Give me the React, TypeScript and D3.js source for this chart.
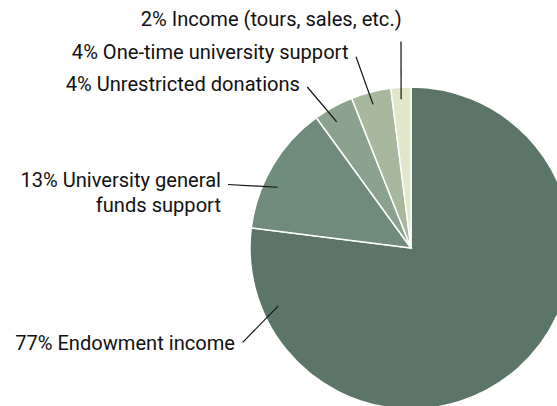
import React from "react";
import * as d3 from "d3";

const categories = [
  "Endowment income",
  "University general funds support",
  "Unrestricted donations",
  "One-time university support",
  "Income (tours, sales, etc.)",
];
const values = [77, 13, 4, 4, 2];
const labelLines = [
  ["77% Endowment income"],
  ["13% University general", "funds support"],
  ["4% Unrestricted donations"],
  ["4% One-time university support"],
  ["2% Income (tours, sales, etc.)"],
];
const colors = ["#5b7668", "#6f8b7c", "#8aa28e", "#a7b89c", "#e1e7c9"];

// layout (label anchor, leader start, leader end in polar coords)
const layout = [
  { tx: 235, ty: 350, lx: 242.7, ly: 342.3, ang: 246.4, rad: 145 },
  { tx: 221, ty: 187, lx: 228, ly: 184.5, ang: 294.5, rad: 146.5 },
  { tx: 300, ty: 90.5, lx: 307.3, ly: 87, ang: 329.5, rad: 146.3 },
  { tx: 348.5, ty: 58.5, lx: 356, ly: 56.7, ang: 345.2, rad: 148.6 },
  { tx: 401.7, ty: 26, lx: 401, ly: 41.5, ang: 356.2, rad: 149 },
];

const W = 557;
const H = 406;
const cx = 411;
const cy = 248;
const R = 161;

export default function App() {
  const pie = d3
    .pie<number>()
    .sort(null)
    .value((d) => d);
  const arcs = pie(values);
  const arcGen = d3
    .arc<d3.PieArcDatum<number>>()
    .innerRadius(0)
    .outerRadius(R);

  return (
    <svg
      width={W}
      height={H}
      style={{ position: "absolute", left: 0, top: 0, background: "#fff" }}
      fontFamily="Roboto, 'Liberation Sans', Arial, sans-serif"
    >
      <g transform={`translate(${cx},${cy})`}>
        {arcs.map((a, i) => (
          <path
            key={categories[i]}
            d={arcGen(a) || ""}
            fill={colors[i]}
            stroke="#fff"
            strokeWidth={1.5}
            strokeLinejoin="miter"
          />
        ))}
      </g>
      {layout.map((l, i) => {
        const a = (l.ang * Math.PI) / 180;
        const ex = cx + l.rad * Math.sin(a);
        const ey = cy - l.rad * Math.cos(a);
        return (
          <g key={categories[i]}>
            <line x1={l.lx} y1={l.ly} x2={ex} y2={ey} stroke="#111" strokeWidth={1.2} />
            <text x={l.tx} y={l.ty} textAnchor="end" fontSize={20.1} fill="#111">
              {labelLines[i].map((t, j) => (
                <tspan key={j} x={l.tx} dy={j === 0 ? 0 : 25}>
                  {t}
                </tspan>
              ))}
            </text>
          </g>
        );
      })}
    </svg>
  );
}
